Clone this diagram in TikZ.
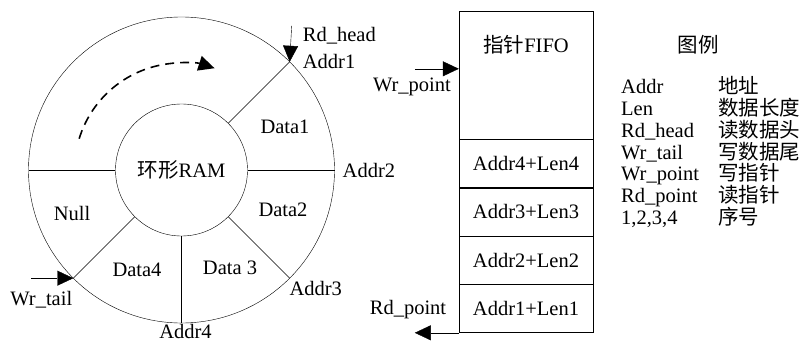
\documentclass[tikz,border=0pt]{standalone}
\usepackage{fontspec}
\setmainfont{Liberation Serif}
\newfontfamily\cjk{Noto Sans CJK SC}
\usetikzlibrary{arrows.meta,positioning,calc}

\begin{document}
\begin{tikzpicture}[x=1pt,y=1pt,font=\fontsize{20.5}{22}\selectfont,
  ptr/.style={-{Triangle[length=16pt,width=15pt]}},
  lbl/.style={inner sep=1pt},
  cell/.style={draw,minimum width=134pt,minimum height=48pt,inner sep=0pt}]
  \useasboundingbox (0,0) rectangle (803,-342);

  % ring buffer
  \coordinate (c) at (181.5,-170);
  \draw (c) circle (153pt);
  \node [circle,draw,minimum size=132pt,inner sep=0pt] (ram) at (c) {{\cjk 环形}RAM};
  \foreach \a/\n in {45/a1,0/a2,-45/a3,-90/a4,-135/wt,180/ln}
    \draw (ram.\a) -- ($(c)+(\a:153pt)$) coordinate (\n);

  \node [lbl] (d1) at (285,-127) {Data1};
  \node [lbl] (d2) at (283,-210) {Data2};
  \node [lbl] (d3) at (230,-268) {Data 3};
  \node [lbl] (d4) at (137,-270) {Data4};
  \node [lbl] (nul) at (72,-213) {Null};

  \node [lbl,anchor=west] (ad1) at ($(a1)+(12,0)$) {Addr1};
  \node [lbl,anchor=west] (ad2) at ($(a2)+(7,0)$) {Addr2};
  \node [lbl] (ad3) at ($(a3)+(26,-10)$) {Addr3};
  \node [lbl,anchor=base] (ad4) at ($(a4)+(4,-15)$) {Addr4};

  % direction of the ring
  \draw [ptr,line width=1.6pt,dash pattern=on 9pt off 6pt]
    ($(c)+(163:107pt)$) arc [start angle=163,end angle=72,radius=107pt];

  % read head / write tail
  \coordinate (rh) at ($(a1)+(2,36)$);
  \draw [ptr] (rh) -- (a1);
  \node [lbl,anchor=west] (rhl) at ($(a1)+(12,26)$) {Rd\_head};
  \coordinate (wts) at ($(wt)+(-42,0)$);
  \draw [ptr] (wts) -- (wt);
  \node [lbl] (wtl) at ($(wt)+(-32,-22)$) {Wr\_tail};

  % pointer fifo
  \node [cell,minimum height=128pt] (fifo) at (526,-75) {};
  \node (fifoname) at ($(fifo.north)+(0,-34)$) {{\cjk 指针}FIFO};
  \node [cell,below=0pt of fifo] (r4) {Addr4+Len4};
  \node [cell,below=0pt of r4] (r3) {Addr3+Len3};
  \node [cell,below=0pt of r3] (r2) {Addr2+Len2};
  \node [cell,below=0pt of r2] (r1) {Addr1+Len1};

  \coordinate (wp) at ($(fifo.north west)+(0,-58)$);
  \draw [ptr] ($(wp)+(-44,0)$) -- (wp);
  \node [lbl] (wpl) at (412,-87) {Wr\_point};
  \coordinate (rp) at ($(r1.south west)+(-44,0)$);
  \draw [ptr] (r1.south west) -- (rp);
  \node [lbl] (rpl) at (408,-310) {Rd\_point};

  % legend
  \node (legend) at (698,-45) {{\cjk 图例}};
  \foreach \k/\v [count=\i] in {Addr/地址,Len/数据长度,Rd\_head/读数据头,
      Wr\_tail/写数据尾,Wr\_point/写指针,Rd\_point/读指针,{1,2,3,4}/序号}
  {
    \node [lbl,anchor=base west] (key\i) at (620,-72.3-21.7*\i) {\k};
    \node [lbl,anchor=base west] (val\i) at (717,-72.3-21.7*\i) {\cjk \v};
  }
\end{tikzpicture}
\end{document}
